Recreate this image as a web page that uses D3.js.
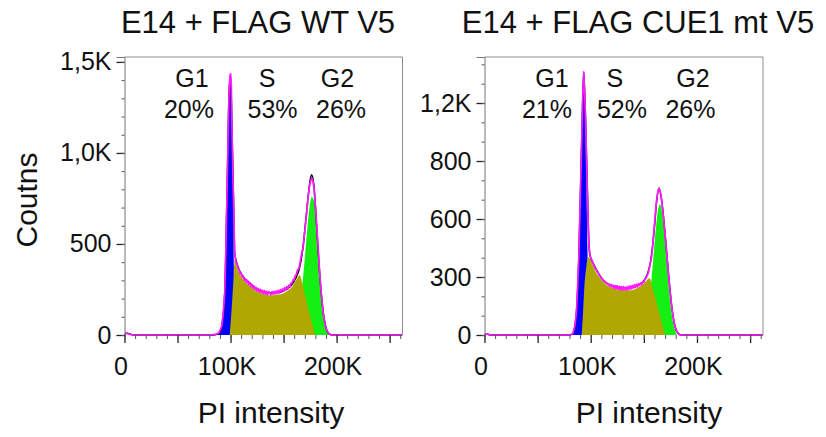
<!DOCTYPE html>
<html>
<head>
<meta charset="utf-8">
<script src="https://cdn.jsdelivr.net/npm/d3@7"></script>
<style>
  body { margin: 0; background: #fff; }
  svg { display: block; }
  text { font-family: "Liberation Sans", Arial, sans-serif; fill: #111; }
</style>
</head>
<body>
<svg id="chart" width="826" height="437"></svg>
<script>
// ---- data (PI intensity in K, counts) ----
const xTickValues = [0, 50, 100, 150, 200, 250];
const xTickLabels = ["0", "", "100K", "", "200K", ""];
const phaseNames = ["G1", "S", "G2"];

const wtYTicks = [0, 500, 1000, 1500];
const wtYLabels = ["0", "500", "1,0K", "1,5K"];
const wtPercents = ["20%", "53%", "26%"];

const mtYTicks = [0, 300, 600, 900, 1200];
const mtYLabels = ["0", "300", "600", "800", "1,2K"];
const mtPercents = ["21%", "52%", "26%"];

// WT: fitted components
const wtG1 = [[86,0],[89,12],[91.6,46],[93,110],[94.5,230],[95.6,450],[96.7,780],[97.7,1080],[98.6,1330],[100,1430],[101.3,1145],[102.2,800],[103,420],[104,100],[105,20],[106,0]];
const wtS = [[99.2,0],[101,140],[102.5,280],[103.9,412],[106,372],[110,322],[115,285],[120,262],[125,240],[130,228],[135,220],[140,218],[145,222],[150,230],[155,248],[158,265],[161,292],[163.5,318],[165.3,330],[167,300],[169,250],[171,200],[173,150],[175,105],[177,60],[179.5,0]];
const wtG2 = [[160,0],[163,45],[165,120],[166.5,210],[168.6,330],[170,420],[172,560],[174,680],[175.5,740],[176.6,760],[178,748],[179.6,712],[181.2,580],[182.7,450],[184.3,315],[186,200],[187.5,118],[189,60],[190.7,25],[192.5,6],[194,0]];
// WT: model sum (black) and measured histogram (magenta)
const wtModel = [[0,0],[2,10],[6,4],[8,0],[84,0],[87,4],[89.7,11],[91.6,46],[94.5,230],[96.7,780],[98.6,1330],[100,1430],[101.3,1145],[103,687],[103.9,450],[107,375],[111.7,320],[118,286],[125.6,250],[133.8,232],[143.3,232],[152.7,250],[160.6,302],[165.3,375],[168.4,485],[171.6,670],[174.8,840],[176.4,880],[178.6,822],[181.2,600],[184.2,325],[187.4,125],[190.5,32],[193,6],[196,0],[262,0]];
const wtHist = [[0,0],[1,12],[3,9],[5,4],[7,0],[80,0],[86,3],[89,12],[91.6,46],[93,110],[94.5,230],[95.6,470],[96.7,790],[97.7,1080],[98.6,1330],[99.4,1420],[100,1435],[100.7,1380],[101.3,1150],[102.2,880],[103,690],[103.9,455],[105,400],[106,390],[107,368],[108,364],[109,336],[110,342],[111,318],[112,324],[113,300],[114,306],[115,288],[116,300],[117,278],[118,290],[119,266],[120,278],[121,258],[122,270],[123,250],[124,262],[125,242],[126,256],[127,236],[128,251],[129,232],[130,246],[131,228],[132,244],[133,224],[134,240],[135,222],[136,239],[137,232],[138,220],[139,238],[140,224],[141,240],[142,225],[143,242],[144,228],[145,245],[146,232],[147,249],[148,236],[149,254],[150,242],[151,260],[152,246],[153,266],[154,254],[155,274],[156,264],[157,286],[158,286],[159,304],[160,301],[161,326],[162,331],[163,356],[164,361],[165,378],[166.5,430],[168.4,480],[170,570],[171.6,660],[173.2,760],[174.8,830],[176.4,862],[177.5,850],[178.6,810],[180,710],[181.2,600],[182.7,470],[184.2,325],[185.8,210],[187.4,120],[189,60],[190.5,28],[192.5,10],[195,0],[262,0]];

// CUE1 mt: fitted components
const mtG1 = [[81,0],[83.3,9],[85,45],[86.5,110],[88.7,380],[90.3,720],[91.8,1070],[93.4,1355],[94.4,1230],[95.3,960],[96.2,680],[97,420],[98,180],[99,60],[100.5,10],[102,0]];
const mtS = [[91.5,0],[92.5,90],[94,250],[96,360],[97.2,405],[100,385],[104,335],[108,300],[113,268],[120,245],[128,234],[136,231],[144,243],[150,266],[155.4,293],[158,245],[162,165],[166,80],[170,0]];
const mtG2 = [[146,0],[150,30],[153,90],[156,220],[158,340],[160,470],[162,590],[164,665],[165.2,675],[166.7,650],[168.3,580],[170,480],[171.5,385],[173,280],[174.6,181],[176.2,110],[177.7,60],[179.5,22],[181,0]];
// CUE1 mt: model sum (black) and measured histogram (magenta)
const mtModel = [[0,0],[2,6],[5,0],[80,0],[83,8],[85,45],[86.5,114],[88.7,388],[90.3,734],[91.8,1078],[93.4,1360],[95.3,1078],[96.9,734],[98.4,457],[99.7,405],[102.2,372],[107,321],[111.6,285],[118,259],[125.8,250],[133.7,243],[141.5,250],[149.4,276],[153,310],[156,370],[158,450],[160,560],[162,690],[164.2,760],[166.7,700],[170,520],[173,330],[176.2,150],[179.3,45],[182,10],[185,0],[262,0]];
const mtHist = [[0,0],[2,6],[4,3],[6,0],[80,0],[82,3],[83.3,9],[85,45],[86.5,114],[87.6,240],[88.7,388],[89.5,560],[90.3,734],[91.1,900],[91.8,1078],[92.6,1250],[93.4,1360],[94.3,1250],[95.3,1078],[96.1,900],[96.9,734],[97.6,580],[98.4,457],[99.1,420],[99.7,405],[100.5,392],[101.3,385],[102.2,372],[103,362],[104,346],[105,340],[106,326],[107,324],[108,308],[109,304],[110,292],[111,292],[112,280],[113,280],[114,270],[115,270],[116,262],[117,262],[118,252],[119,262],[120,248],[121,258],[122,240],[123,256],[124,238],[125,254],[126,236],[127,252],[128,234],[129,250],[130,232],[131,250],[132,234],[133,248],[134,232],[135,252],[136,236],[137,254],[138,238],[139,256],[140,242],[141,260],[142,246],[143,262],[144,248],[145,266],[146,256],[147,270],[148,260],[149,276],[150,272],[151,290],[152,294],[153,307],[154.1,321],[155.5,355],[157.3,405],[158.5,470],[159.8,560],[161,640],[162,698],[163.2,740],[164.2,759],[165.4,740],[166.7,698],[168.3,615],[169.9,526],[171.5,420],[173,321],[174.6,230],[176.2,146],[177.8,85],[179.3,43],[181,18],[182.5,6],[184,0],[262,0]];

// ---- layout ----
const xMaxK = 262.144;
const plotTop = 57, plotBottom = 335;
const colors = { g1: "#0000ff", s: "#b1a702", g2: "#14f014", model: "#000", hist: "#ff1aff" };

const panels = [
  { id: "wt", title: "E14 + FLAG WT V5", titleX: 258, left: 124.5, right: 402.5, yMax: 1527,
    yTicks: wtYTicks, yLabels: wtYLabels, percents: wtPercents,
    g1: wtG1, s: wtS, g2: wtG2, model: wtModel, hist: wtHist,
    nameK: [63.6, 134.4, 200.8], pctK: [60.8, 139.6, 204.2], xTitleX: 271 },
  { id: "mt", title: "E14 + FLAG CUE1 mt V5", titleX: 638, left: 484.5, right: 763, yMax: 1438,
    yTicks: mtYTicks, yLabels: mtYLabels, percents: mtPercents,
    g1: mtG1, s: mtS, g2: mtG2, model: mtModel, hist: mtHist,
    nameK: [63.5, 122.8, 196.3], pctK: [58.8, 129.4, 193.9], xTitleX: 649 }
];

const svg = d3.select("#chart");
svg.append("rect").attr("width", 826).attr("height", 437).attr("fill", "#fff");

panels.forEach(p => {
  const x = d3.scaleLinear().domain([0, xMaxK]).range([p.left, p.right]);
  const y = d3.scaleLinear().domain([0, p.yMax]).range([plotBottom, plotTop]);
  const g = svg.append("g");

  g.append("clipPath").attr("id", "clip-" + p.id)
    .append("rect")
    .attr("x", p.left).attr("y", plotTop - 2)
    .attr("width", p.right - p.left).attr("height", plotBottom - plotTop + 4);

  const area = d3.area()
    .x(d => x(d[0])).y0(y(0)).y1(d => y(d[1]))
    .curve(d3.curveMonotoneX);
  const smooth = d3.line().x(d => x(d[0])).y(d => y(d[1])).curve(d3.curveMonotoneX);
  const raw = d3.line().x(d => x(d[0])).y(d => y(d[1]));

  const plot = g.append("g").attr("clip-path", `url(#clip-${p.id})`);
  plot.append("path").datum(p.g1).attr("fill", colors.g1).attr("d", area);
  plot.append("path").datum(p.g2).attr("fill", colors.g2).attr("d", area);
  plot.append("path").datum(p.s).attr("fill", colors.s).attr("d", area);
  plot.append("path").datum(p.model).attr("fill", "none")
    .attr("stroke", colors.model).attr("stroke-width", 1.5).attr("d", smooth);
  plot.append("path").datum(p.hist).attr("fill", "none")
    .attr("stroke", colors.hist).attr("stroke-width", 1.7)
    .attr("stroke-linejoin", "round").attr("d", raw);

  // frame (top / right)
  g.append("path")
    .attr("d", `M${p.left},${plotTop}H${p.right}V${plotBottom}`)
    .attr("fill", "none").attr("stroke", "#8c8c8c").attr("stroke-width", 1);

  // y axis
  const yAxis = g.append("g").attr("transform", `translate(${p.left},0)`)
    .call(d3.axisLeft(y).tickValues(p.yTicks).tickFormat((d, i) => p.yLabels[i])
      .tickSize(8).tickPadding(5));
  yAxis.select(".domain").attr("stroke", "#777");
  yAxis.selectAll(".tick line").attr("stroke", "#222").attr("stroke-width", 1.3);
  yAxis.selectAll("text").style("font-size", "25px").attr("fill", "#111");
  g.append("g").attr("transform", `translate(${p.left},0)`)
    .call(d3.axisLeft(y).tickValues(d3.range(0, p.yMax, 100)).tickFormat("").tickSize(3))
    .call(a => a.select(".domain").remove())
    .selectAll("line").attr("stroke", "#555");

  // x axis
  const xAxis = g.append("g").attr("transform", `translate(0,${plotBottom})`)
    .call(d3.axisBottom(x).tickValues(xTickValues).tickFormat((d, i) => xTickLabels[i])
      .tickSize(8));
  xAxis.select(".domain").remove();
  xAxis.selectAll(".tick line").attr("stroke", "#222").attr("stroke-width", 1.3);
  xAxis.selectAll("text").style("font-size", "25px").attr("fill", "#111")
    .attr("y", 40).attr("dy", 0).attr("dx", -4);
  g.append("g").attr("transform", `translate(0,${plotBottom})`)
    .call(d3.axisBottom(x).tickValues(d3.range(0, xMaxK, 10)).tickFormat("").tickSize(4))
    .call(a => a.select(".domain").remove())
    .selectAll("line").attr("stroke", "#555");

  // titles
  g.append("text").attr("x", p.titleX).attr("y", 33)
    .attr("text-anchor", "middle").style("font-size", "31px").text(p.title);
  g.append("text").attr("x", p.xTitleX).attr("y", 423)
    .attr("text-anchor", "middle").style("font-size", "30px").text("PI intensity");

  // phase labels
  phaseNames.forEach((name, i) => {
    g.append("text").attr("x", x(p.nameK[i])).attr("y", 87)
      .attr("text-anchor", "middle").style("font-size", "25px").text(name);
    g.append("text").attr("x", x(p.pctK[i])).attr("y", 118)
      .attr("text-anchor", "middle").style("font-size", "25px").text(p.percents[i]);
  });
});

svg.append("text")
  .attr("transform", "translate(37,200) rotate(-90)")
  .attr("text-anchor", "middle").style("font-size", "30px").text("Coutns");
</script>
</body>
</html>
